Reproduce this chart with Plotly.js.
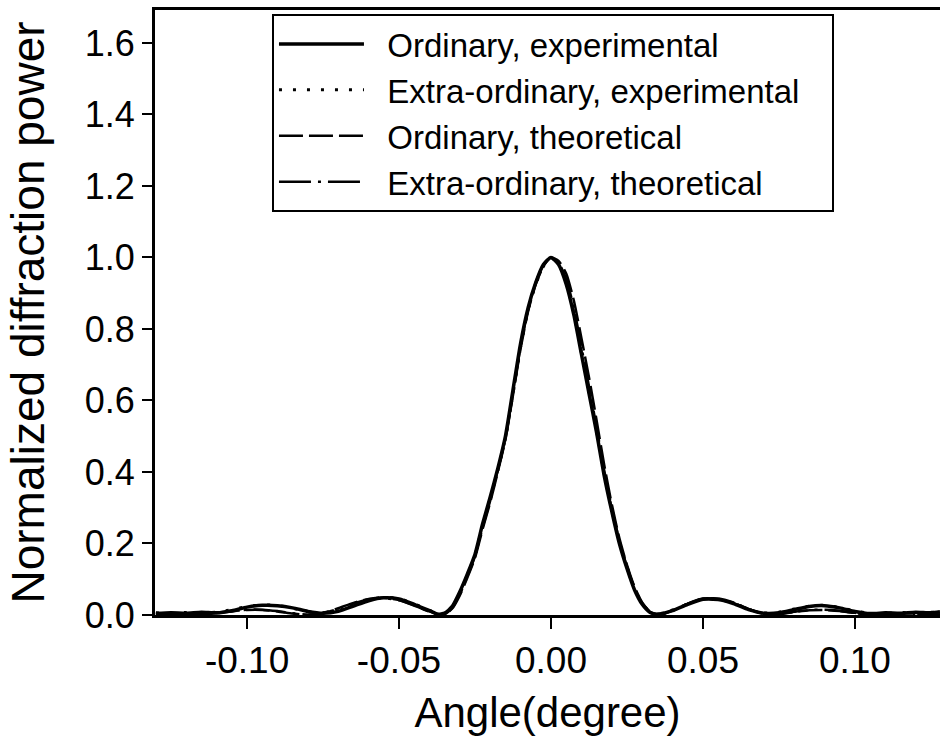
<!DOCTYPE html>
<html>
<head>
<meta charset="utf-8">
<script src="https://cdn.plot.ly/plotly-3.0.1.min.js"></script>
<style>html,body{margin:0;padding:0;background:#fff;overflow:hidden}</style>
</head>
<body>
<div id="chart" style="width:940px;height:755px"></div>
<script>
// Angle (degree)
const angle = [-0.130,-0.125,-0.120,-0.115,-0.110,-0.105,-0.100,-0.095,-0.090,-0.085,-0.080,-0.075,-0.070,-0.065,-0.060,-0.055,-0.050,-0.045,-0.040,
  -0.0375,-0.035,-0.0325,-0.030,-0.0275,-0.025,-0.0225,-0.020,-0.0175,-0.015,-0.0125,-0.010,-0.0075,-0.005,-0.0025,0,
  0.0025,0.005,0.0075,0.010,0.0125,0.015,0.0175,0.020,0.0225,0.025,0.0275,0.030,0.0325,0.035,0.0375,
  0.040,0.045,0.050,0.055,0.060,0.065,0.070,0.075,0.080,0.085,0.090,0.095,0.100,0.105,0.110,0.115,0.120,0.125,0.128];

const ordinaryExp = [0.004,0.006,0.005,0.008,0.006,0.012,0.022,0.027,0.026,0.020,0.010,0.005,0.010,0.025,0.040,0.048,0.045,0.030,0.012,
  0.003,0.005,0.024,0.065,0.115,0.17,0.255,0.33,0.41,0.50,0.63,0.76,0.86,0.93,0.98,1.0,
  0.98,0.925,0.84,0.73,0.62,0.51,0.39,0.29,0.20,0.13,0.07,0.03,0.008,0.002,0.006,
  0.012,0.030,0.044,0.043,0.032,0.015,0.005,0.006,0.015,0.024,0.026,0.020,0.010,0.004,0.006,0.005,0.008,0.006,0.009];

const extraExp = [0.006,0.004,0.007,0.005,0.008,0.015,0.024,0.028,0.027,0.019,0.009,0.006,0.012,0.027,0.042,0.050,0.046,0.031,0.013,
  0.005,0.004,0.022,0.062,0.112,0.168,0.25,0.325,0.405,0.495,0.62,0.75,0.855,0.925,0.975,0.998,
  0.982,0.93,0.845,0.735,0.625,0.515,0.395,0.295,0.205,0.135,0.074,0.032,0.010,0.003,0.007,
  0.014,0.031,0.045,0.044,0.033,0.016,0.006,0.008,0.017,0.025,0.027,0.021,0.011,0.005,0.004,0.007,0.005,0.008,0.006];

const ordinaryTheo = [0.002,0.001,0.000,0.002,0.006,0.011,0.014,0.014,0.010,0.004,0.000,0.006,0.019,0.034,0.045,0.048,0.042,0.027,0.010,
  0.003,0.001,0.018,0.055,0.105,0.16,0.24,0.315,0.40,0.49,0.615,0.745,0.85,0.925,0.975,1.0,
  0.99,0.955,0.88,0.775,0.665,0.545,0.42,0.31,0.215,0.14,0.078,0.035,0.010,0.001,0.004,
  0.012,0.031,0.045,0.046,0.035,0.017,0.003,0.002,0.008,0.013,0.014,0.011,0.005,0.001,0.002,0.004,0.004,0.002,0.001];

const extraTheo = [0.001,0.002,0.001,0.001,0.005,0.010,0.015,0.015,0.011,0.005,0.001,0.005,0.017,0.032,0.044,0.047,0.041,0.026,0.009,
  0.002,0.002,0.020,0.058,0.108,0.165,0.245,0.32,0.405,0.495,0.62,0.75,0.855,0.93,0.978,1.0,
  0.985,0.94,0.86,0.75,0.64,0.525,0.405,0.30,0.208,0.135,0.075,0.033,0.009,0.001,0.005,
  0.013,0.032,0.046,0.045,0.034,0.016,0.004,0.003,0.009,0.014,0.015,0.012,0.006,0.002,0.001,0.003,0.003,0.001,0.002];

const seriesNames = ["Ordinary, experimental","Extra-ordinary, experimental","Ordinary, theoretical","Extra-ordinary, theoretical"];
const xTickVals = [-0.10,-0.05,0.00,0.05,0.10];
const xTickText = ["-0.10","-0.05","0.00","0.05","0.10"];
const yTickVals = [0,0.2,0.4,0.6,0.8,1.0,1.2,1.4,1.6];
const yTickText = ["0.0","0.2","0.4","0.6","0.8","1.0","1.2","1.4","1.6"];

const font = "Liberation Sans, Arial, sans-serif";
const styles = [
  {width:3.5, dash:"solid"},
  {width:3, dash:"3px,11px"},
  {width:2.5, dash:"24px,6px"},
  {width:2.5, dash:"32px,7px,3px,7px"}
];
const ys = [ordinaryExp, extraExp, ordinaryTheo, extraTheo];
const padL = "\u00A0\u00A0";
const padR = "\u00A0\u00A0\u00A0";

const traces = ys.map((y,i)=>({
  type:"scatter", mode:"lines", x:angle, y:y, name:padL + seriesNames[i] + padR,
  line:{color:"#000", width:styles[i].width, dash:styles[i].dash, shape:"spline", smoothing:0.6}
}));

const layout = {
  width:940, height:755,
  margin:{l:155, r:0, t:10, b:140},
  paper_bgcolor:"#fff", plot_bgcolor:"#fff",
  font:{family:font, color:"#000"},
  showlegend:true,
  legend:{x:0.149, y:0.9934, xanchor:"left", yanchor:"top",
    bordercolor:"#000", borderwidth:2, bgcolor:"#fff",
    font:{family:font, size:33, color:"#000"}, itemwidth:85, tracegroupgap:0},
  xaxis:{range:[-0.1303,0.128], tickmode:"array", tickvals:xTickVals, ticktext:xTickText,
    ticks:"outside", ticklen:11, tickwidth:2, tickcolor:"#000",
    showline:true, linecolor:"#000", linewidth:3, mirror:true,
    showgrid:false, zeroline:false, tickfont:{family:font, size:37, color:"#000"},
    title:{text:"Angle(degree)", font:{family:font, size:42, color:"#000"}, standoff:18},
    automargin:false},
  yaxis:{range:[0,1.692], tickmode:"array", tickvals:yTickVals, ticktext:yTickText,
    ticks:"outside", ticklen:10, tickwidth:2, tickcolor:"#000",
    showline:true, linecolor:"#000", linewidth:3, mirror:false,
    showgrid:false, zeroline:false, tickfont:{family:font, size:36, color:"#000"},
    title:{text:"Normalized diffraction power", font:{family:font, size:46, color:"#000"}, standoff:26},
    automargin:false}
};

Plotly.newPlot("chart", traces, layout, {displayModeBar:false, staticPlot:true});
</script>
</body>
</html>
